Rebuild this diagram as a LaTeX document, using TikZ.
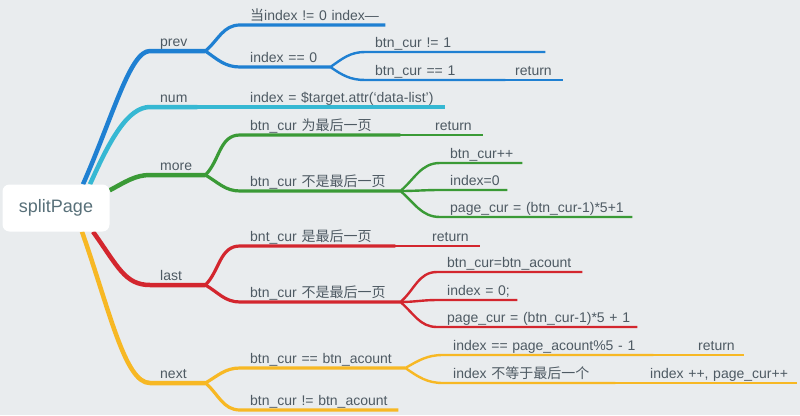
\documentclass[tikz,border=0pt]{standalone}
\usepackage{fontspec}
\setmainfont{Liberation Sans}
\newfontfamily\cjk{Noto Sans CJK SC}
\usetikzlibrary{positioning, backgrounds}
\definecolor{cbg}{HTML}{E9ECEE}
\definecolor{ctext}{HTML}{4E5A63}
\definecolor{croot}{HTML}{587079}
\definecolor{cblue}{HTML}{1F80D2}
\definecolor{ccyan}{HTML}{36B8D3}
\definecolor{cgreen}{HTML}{3A9A36}
\definecolor{cred}{HTML}{D3262E}
\definecolor{cyellow}{HTML}{F7B824}
\tikzset{
  every picture/.style={line cap=round},
  root/.style={fill=white, rounded corners=7pt, minimum width=107pt, minimum height=47pt, text=croot, font=\fontsize{18}{20}\selectfont},
  topic/.style={anchor=south west, inner xsep=10pt, inner ysep=4pt, text depth=0pt, align=left, text=ctext, font=\fontsize{14}{16}\selectfont,
    execute at begin node=\hbox\bgroup, execute at end node=\egroup},
  main/.style={draw=#1, line width=4.5pt},
  sub/.style={draw=#1, line width=3.2pt},
  leaf/.style={draw=#1, line width=2.4pt},
  tail/.style={draw=#1, line width=1.8pt},
}

\begin{document}
\begin{tikzpicture}[x=1pt, y=-1pt]
\begin{scope}[on background layer]
  \fill[cbg] (0,0) rectangle (800,415);
\end{scope}
\useasboundingbox (0,0) rectangle (800,415);
\node[root] (root) at (56,208) {splitPage};

% first level
\node[topic, text width=35pt] (prev) at (150,51) {prev};
\node[topic, text width=27pt] (num) at (150,107) {num};
\node[topic, text width=35pt] (more) at (150,175) {more};
\node[topic, text width=35pt] (last) at (150,285) {last};
\node[topic, text width=35pt] (next) at (150,383) {next};

% prev
\node[topic, text width=125pt] (prevA) at (240,25) {{\cjk 当}index != 0 index—};
\node[topic, text width=70pt] (prevB) at (240,67) {index == 0};
\node[topic, text width=160pt] (prevBa) at (365,52) {btn\_cur != 1};
\node[topic, text width=120pt] (prevBb) at (365,80) {btn\_cur == 1};
\node[topic, text width=38pt] (prevRet) at (505,80) {return};

% num
\node[topic, text width=185pt] (numA) at (240,107) {index = \$target.attr(‘data-list’)};

% more
\node[topic, text width=140pt] (moreA) at (240,135) {btn\_cur {\cjk 为最后一页}};
\node[topic, text width=38pt] (moreRet) at (425,135) {return};
\node[topic, text width=140pt] (moreB) at (240,191) {btn\_cur {\cjk 不是最后一页}};
\node[topic, text width=62pt] (moreBa) at (440,163) {btn\_cur++};
\node[topic, text width=47pt] (moreBb) at (440,190) {index=0};
\node[topic, text width=172pt] (moreBc) at (440,217) {page\_cur = (btn\_cur-1)*5+1};

% last
\node[topic, text width=135pt] (lastA) at (240,246) {bnt\_cur {\cjk 是最后一页}};
\node[topic, text width=38pt] (lastRet) at (422,246) {return};
\node[topic, text width=140pt] (lastB) at (240,302) {btn\_cur {\cjk 不是最后一页}};
\node[topic, text width=125pt] (lastBa) at (437,272) {btn\_cur=btn\_acount};
\node[topic, text width=60pt] (lastBb) at (437,300) {index = 0;};
\node[topic, text width=180pt] (lastBc) at (437,327) {page\_cur = (btn\_cur-1)*5 + 1};

% next
\node[topic, text width=145pt] (nextA) at (240,368) {btn\_cur == btn\_acount};
\node[topic, text width=190pt] (nextAa) at (443,355) {index == page\_acount\%5 - 1};
\node[topic, text width=36pt] (nextAaRet) at (688,355) {return};
\node[topic, text width=152pt] (nextAb) at (443,383) {index {\cjk 不等于最后一个}};
\node[topic, text width=137pt] (nextAbDo) at (640,383) {index ++, page\_cur++};
\node[topic, text width=138pt] (nextB) at (240,410) {btn\_cur != btn\_acount};

\begin{scope}[on background layer]
  % splitPage -> first level
  \draw[main=cblue] ([xshift=27pt]root.north) .. controls +(30,-68) and +(-20,0) .. (prev.south west) -- (prev.south east);
  \draw[main=ccyan] ([xshift=34pt]root.north) .. controls +(20,-45) and +(-22,0) .. (num.south west) -- (num.south east);
  \draw[main=cgreen] ([yshift=-6pt]root.north east) .. controls +(15,-8) and +(-15,0) .. (more.south west) -- (more.south east);
  \draw[main=cred] ([xshift=37pt]root.south) .. controls +(25,35) and +(-25,0) .. (last.south west) -- (last.south east);
  \draw[main=cyellow] ([xshift=26pt]root.south) .. controls +(28,80) and +(-25,0) .. (next.south west) -- (next.south east);

  % second level
  \draw[sub=cblue] (prev.south east) to[out=40,in=180] (prevA.south west) -- (prevA.south east);
  \draw[sub=cblue] (prev.south east) to[out=-35,in=180] (prevB.south west) -- (prevB.south east);
  \draw[sub=ccyan] (num.south east) -- (numA.south west) -- (numA.south east);
  \draw[sub=cgreen] (more.south east) to[out=45,in=180] (moreA.south west) -- (moreA.south east);
  \draw[sub=cgreen] (more.south east) to[out=-30,in=180] (moreB.south west) -- (moreB.south east);
  \draw[sub=cred] (last.south east) to[out=45,in=180] (lastA.south west) -- (lastA.south east);
  \draw[sub=cred] (last.south east) to[out=-30,in=180] (lastB.south west) -- (lastB.south east);
  \draw[sub=cyellow] (next.south east) to[out=30,in=180] (nextA.south west) -- (nextA.south east);
  \draw[sub=cyellow] (next.south east) to[out=-40,in=180] (nextB.south west) -- (nextB.south east);

  % third level
  \draw[leaf=cblue] (prevB.south east) to[out=35,in=180] (prevBa.south west) -- (prevBa.south east);
  \draw[leaf=cblue] (prevB.south east) to[out=-35,in=180] (prevBb.south west) -- (prevBb.south east);
  \draw[leaf=cgreen] (moreB.south east) to[out=40,in=180] (moreBa.south west) -- (moreBa.south east);
  \draw[leaf=cgreen] (moreB.south east) to[out=0,in=180] (moreBb.south west) -- (moreBb.south east);
  \draw[leaf=cgreen] (moreB.south east) to[out=-40,in=180] (moreBc.south west) -- (moreBc.south east);
  \draw[leaf=cred] (lastB.south east) to[out=40,in=180] (lastBa.south west) -- (lastBa.south east);
  \draw[leaf=cred] (lastB.south east) to[out=0,in=180] (lastBb.south west) -- (lastBb.south east);
  \draw[leaf=cred] (lastB.south east) to[out=-40,in=180] (lastBc.south west) -- (lastBc.south east);
  \draw[leaf=cyellow] (nextA.south east) to[out=30,in=180] (nextAa.south west) -- (nextAa.south east);
  \draw[leaf=cyellow] (nextA.south east) to[out=-35,in=180] (nextAb.south west) -- (nextAb.south east);

  % tails
  \draw[tail=cblue] (prevBb.south east) -- (prevRet.south west) -- (prevRet.south east);
  \draw[tail=cgreen] (moreA.south east) -- (moreRet.south west) -- (moreRet.south east);
  \draw[tail=cred] (lastA.south east) -- (lastRet.south west) -- (lastRet.south east);
  \draw[tail=cyellow] (nextAa.south east) -- (nextAaRet.south west) -- (nextAaRet.south east);
  \draw[tail=cyellow] (nextAb.south east) -- (nextAbDo.south west) -- (nextAbDo.south east);
\end{scope}
\end{tikzpicture}
\end{document}
